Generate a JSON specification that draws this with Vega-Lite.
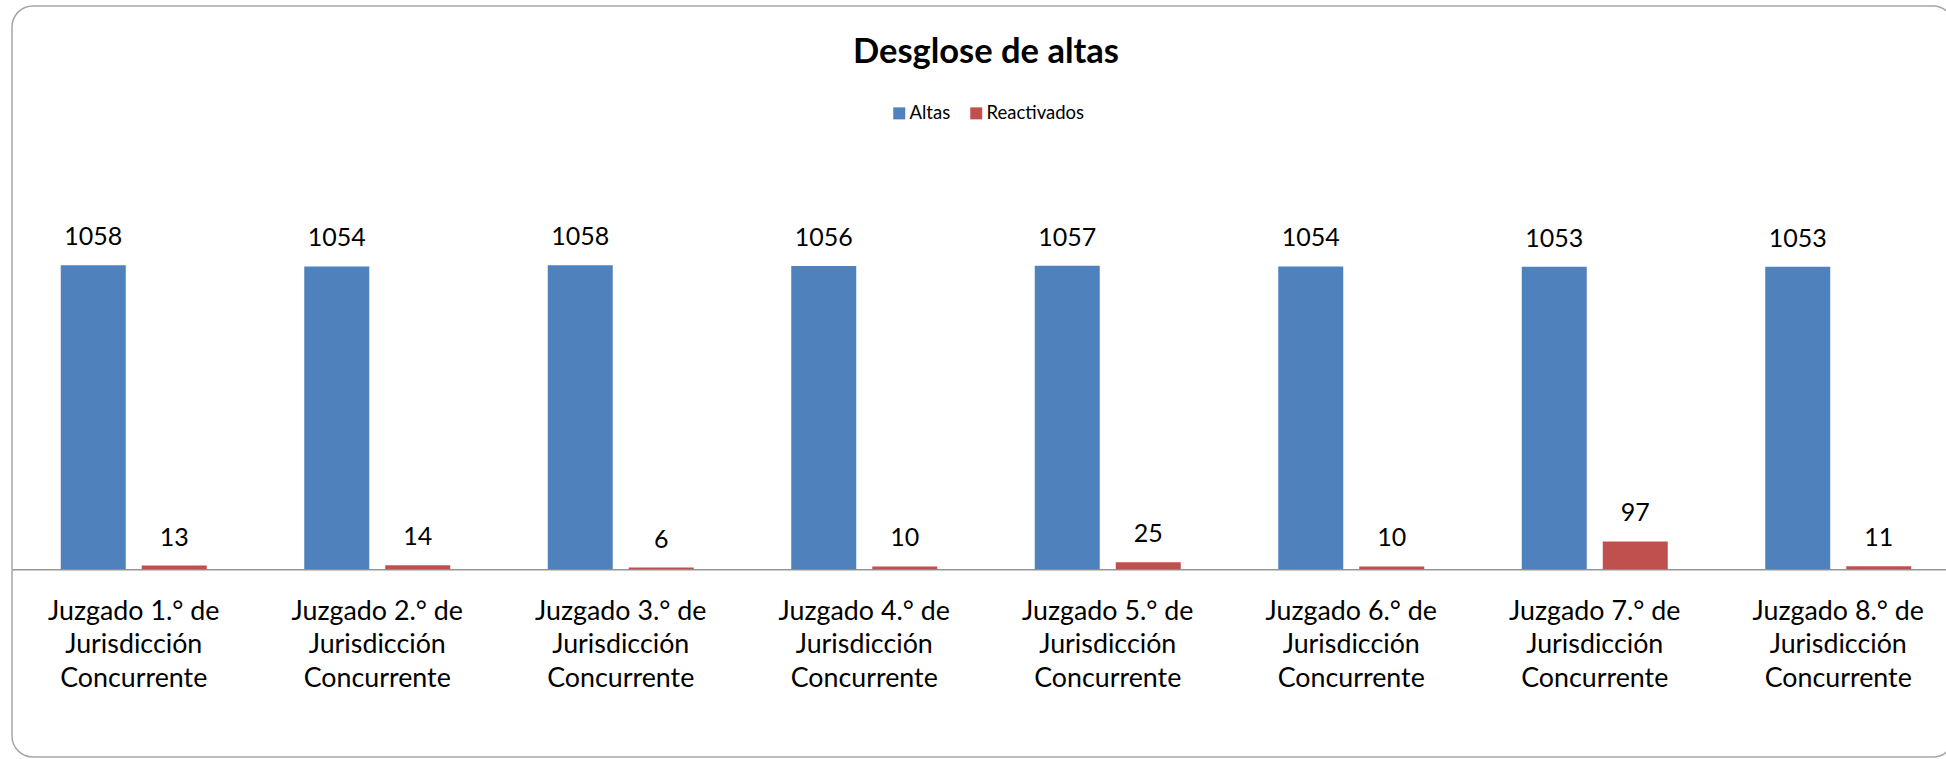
{
  "$schema": "https://vega.github.io/schema/vega-lite/v6.json",
  "autosize": {"type": "none"},
  "padding": {"left": 12, "top": 6, "right": 0, "bottom": 2},
  "width": 1942,
  "height": 751,
  "background": "white",
  "config": {
    "view": {"stroke": "#a6a6a6", "strokeWidth": 1.5, "cornerRadius": 21},
    "font": "Lato"
  },
  "title": {
    "text": "Desglose de altas",
    "font": "Lato",
    "fontSize": 34.5,
    "fontWeight": "bold",
    "color": "#000000",
    "anchor": "middle",
    "frame": "group",
    "baseline": "alphabetic",
    "offset": -91,
    "dx": 3
  },
  "data": {
    "values": [
      {"juzgado": "Juzgado 1.° de Jurisdicción Concurrente", "serie": "Altas", "valor": 1058},
      {"juzgado": "Juzgado 1.° de Jurisdicción Concurrente", "serie": "Reactivados", "valor": 13},
      {"juzgado": "Juzgado 2.° de Jurisdicción Concurrente", "serie": "Altas", "valor": 1054},
      {"juzgado": "Juzgado 2.° de Jurisdicción Concurrente", "serie": "Reactivados", "valor": 14},
      {"juzgado": "Juzgado 3.° de Jurisdicción Concurrente", "serie": "Altas", "valor": 1058},
      {"juzgado": "Juzgado 3.° de Jurisdicción Concurrente", "serie": "Reactivados", "valor": 6},
      {"juzgado": "Juzgado 4.° de Jurisdicción Concurrente", "serie": "Altas", "valor": 1056},
      {"juzgado": "Juzgado 4.° de Jurisdicción Concurrente", "serie": "Reactivados", "valor": 10},
      {"juzgado": "Juzgado 5.° de Jurisdicción Concurrente", "serie": "Altas", "valor": 1057},
      {"juzgado": "Juzgado 5.° de Jurisdicción Concurrente", "serie": "Reactivados", "valor": 25},
      {"juzgado": "Juzgado 6.° de Jurisdicción Concurrente", "serie": "Altas", "valor": 1054},
      {"juzgado": "Juzgado 6.° de Jurisdicción Concurrente", "serie": "Reactivados", "valor": 10},
      {"juzgado": "Juzgado 7.° de Jurisdicción Concurrente", "serie": "Altas", "valor": 1053},
      {"juzgado": "Juzgado 7.° de Jurisdicción Concurrente", "serie": "Reactivados", "valor": 97},
      {"juzgado": "Juzgado 8.° de Jurisdicción Concurrente", "serie": "Altas", "valor": 1053},
      {"juzgado": "Juzgado 8.° de Jurisdicción Concurrente", "serie": "Reactivados", "valor": 11}
    ]
  },
  "encoding": {
    "x": {
      "field": "juzgado",
      "type": "nominal",
      "sort": null,
      "scale": {"range": [0, 1948], "paddingInner": 0.4004, "paddingOuter": 0.2002},
      "axis": {
        "title": null,
        "orient": "bottom",
        "offset": -187.7,
        "ticks": false,
        "grid": false,
        "domainColor": "#969696",
        "domainWidth": 1.5,
        "labelAngle": 0,
        "labelFont": "Lato",
        "labelFontSize": 26.8,
        "labelColor": "#000000",
        "labelPadding": 29,
        "labelBaseline": "top",
        "labelLineHeight": 33.5,
        "labelLimit": 0,
        "labelOverlap": false,
        "labelFlush": false,
        "labelBound": false,
        "labelExpr": "[replace(datum.label, ' Jurisdicción Concurrente', ''), 'Jurisdicción', 'Concurrente']"
      }
    },
    "xOffset": {
      "field": "serie",
      "type": "nominal",
      "sort": ["Altas", "Reactivados"],
      "scale": {"paddingInner": 0.1975, "paddingOuter": 0}
    },
    "y": {
      "field": "valor",
      "type": "quantitative",
      "stack": null,
      "scale": {"domain": [-653.3, 1960.7], "nice": false, "zero": false},
      "axis": null
    }
  },
  "layer": [
    {
      "mark": {"type": "bar"},
      "encoding": {
        "color": {
          "field": "serie",
          "type": "nominal",
          "sort": ["Altas", "Reactivados"],
          "scale": {"domain": ["Altas", "Reactivados"], "range": ["#4F81BD", "#C0504D"]},
          "legend": {
            "title": null,
            "orient": "none",
            "direction": "horizontal",
            "legendX": 878,
            "legendY": 98,
            "symbolType": "square",
            "symbolSize": 144,
            "symbolStrokeWidth": 0,
            "labelFont": "Lato",
            "labelFontSize": 18.5,
            "labelColor": "#000000",
            "labelOffset": 1,
            "columnPadding": 16,
            "padding": 0
          }
        }
      }
    },
    {
      "mark": {"type": "text", "font": "Lato", "fontSize": 25, "color": "#000000", "baseline": "alphabetic", "dy": -20},
      "encoding": {
        "text": {"field": "valor", "type": "quantitative"}
      }
    }
  ]
}
